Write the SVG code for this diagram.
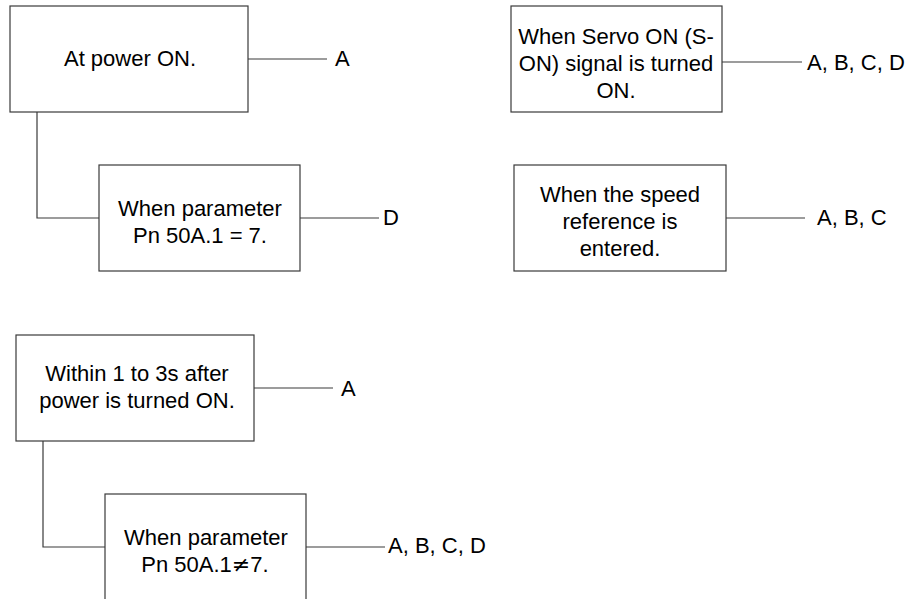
<svg xmlns="http://www.w3.org/2000/svg" width="910" height="599" viewBox="0 0 910 599">
<style>
.box{fill:#fff;stroke:#3a3a3a;stroke-width:1.2}
.ln{fill:none;stroke:#3a3a3a;stroke-width:1.2}
text{font-family:"Liberation Sans",Arial,sans-serif;font-size:22px;fill:#000}
.c{text-anchor:middle}
.ne{font-family:"DejaVu Sans",sans-serif;font-size:22px}
</style>
<rect width="910" height="599" fill="#fff"/>
<g id="connectors">
<path class="ln" d="M248,59H327"/>
<path class="ln" d="M37,112V218H99"/>
<path class="ln" d="M300,218H379"/>
<path class="ln" d="M722,62H802"/>
<path class="ln" d="M726,218H805"/>
<path class="ln" d="M254,388H333"/>
<path class="ln" d="M43,441V547H105"/>
<path class="ln" d="M306,547H385"/>
</g>
<g id="n1">
<rect class="box" x="10" y="6" width="238" height="106"/>
<text class="c" x="130" y="66">At power ON.</text>
</g>
<g id="n1-out"><text x="335" y="66">A</text></g>
<g id="n2">
<rect class="box" x="99" y="165" width="201" height="106"/>
<text class="c" x="200" y="216">When parameter</text>
<text class="c" x="200" y="243">Pn 50A.1 = 7.</text>
</g>
<g id="n2-out"><text x="383" y="225">D</text></g>
<g id="n3">
<rect class="box" x="511" y="6" width="211" height="106"/>
<text class="c" x="616" y="44">When Servo ON (S-</text>
<text class="c" x="616" y="71">ON) signal is turned</text>
<text class="c" x="616" y="98">ON.</text>
</g>
<g id="n3-out"><text x="807" y="70">A, B, C, D</text></g>
<g id="n4">
<rect class="box" x="514" y="165" width="212" height="106"/>
<text class="c" x="620" y="202">When the speed</text>
<text class="c" x="620" y="229">reference is</text>
<text class="c" x="620" y="256">entered.</text>
</g>
<g id="n4-out"><text x="817" y="225">A, B, C</text></g>
<g id="n5">
<rect class="box" x="16" y="335" width="238" height="106"/>
<text class="c" x="137" y="381">Within 1 to 3s after</text>
<text class="c" x="137" y="408">power is turned ON.</text>
</g>
<g id="n5-out"><text x="341" y="396">A</text></g>
<g id="n6">
<rect class="box" x="105" y="494" width="201" height="120"/>
<text class="c" x="205" y="572">Pn 50A.1<tspan class="ne">≠</tspan>7.</text>
<text class="c" x="206" y="545">When parameter</text>
</g>
<g id="n6-out"><text x="388" y="553">A, B, C, D</text></g>
</svg>
